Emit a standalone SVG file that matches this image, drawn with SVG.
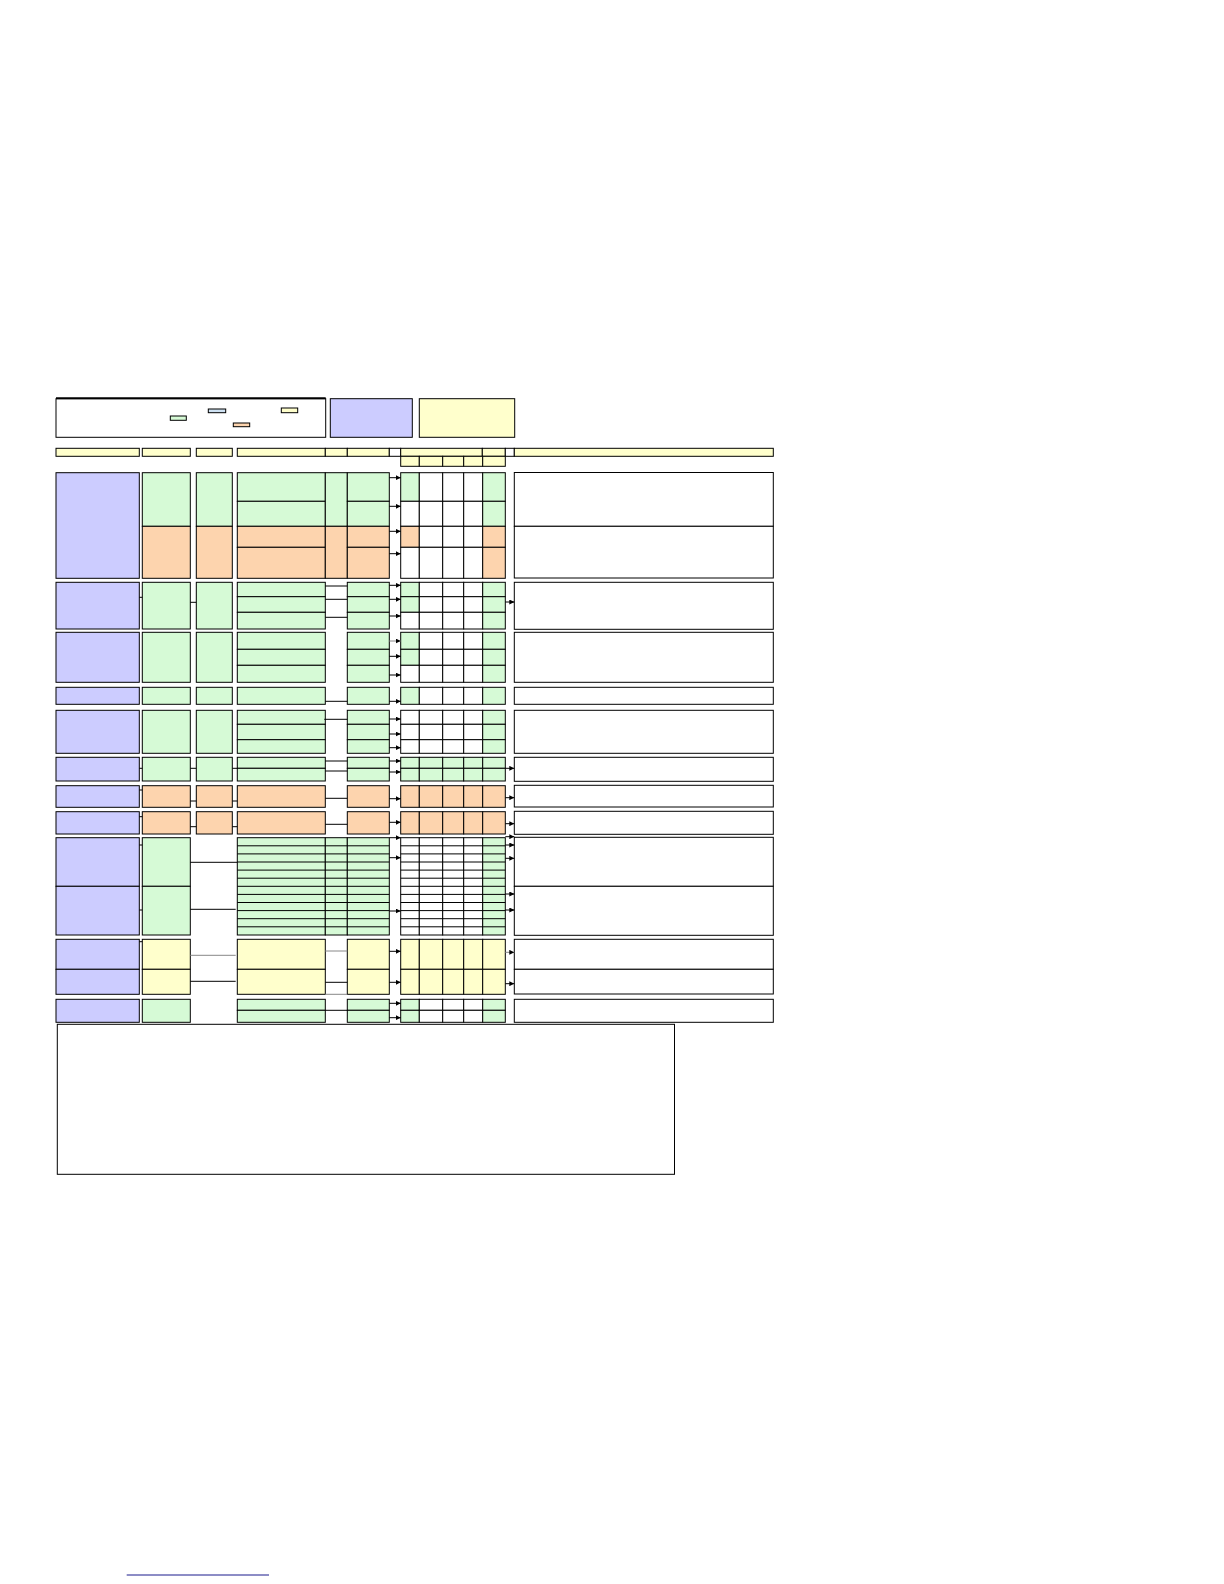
<svg xmlns="http://www.w3.org/2000/svg" width="1224" height="1584" viewBox="0 0 1224 1584">
<style>
rect{stroke:#000;stroke-width:1}
.b{fill:#ccccff}.g{fill:#d6fad6}.o{fill:#fdd4ae}.y{fill:#ffffcc}.w{fill:#fff}.lb{fill:#cfe2f3}
.c line,line.c{stroke:#000;stroke-width:1}
.gr{stroke:#888!important}
.a{marker-end:url(#ah)}
</style>
<defs>
<marker id="ah" markerUnits="userSpaceOnUse" markerWidth="5" markerHeight="5" refX="5" refY="2.5" orient="auto"><path d="M0,0L5,2.5L0,5z" fill="#000"/></marker>
</defs>

<g id="legend">
<rect class="w" x="56" y="398.7" width="269.7" height="38.6"/>
<line x1="56" y1="398.2" x2="325.7" y2="398.2" stroke="#000" stroke-width="2"/>
<rect class="g" x="170.3" y="416" width="16" height="4.3"/>
<rect class="lb" x="208.3" y="409" width="17.4" height="3.7"/>
<rect class="o" x="233.3" y="423" width="16.4" height="3.7"/>
<rect class="y" x="281.3" y="408" width="16.4" height="4.7"/>
</g>
<g id="legend-blue"><rect class="b" x="330.3" y="398.7" width="82" height="38.6"/></g>
<g id="legend-yellow"><rect class="y" x="419.3" y="398.7" width="95.4" height="38.6"/></g>

<g id="header">
<rect class="y" x="56" y="448.3" width="83.3" height="8"/>
<rect class="y" x="142.3" y="448.3" width="48" height="8"/>
<rect class="y" x="196.3" y="448.3" width="36" height="8"/>
<rect class="y" x="237.3" y="448.3" width="88" height="8"/>
<rect class="y" x="325.3" y="448.3" width="22" height="8"/>
<rect class="y" x="347.3" y="448.3" width="42" height="8"/>
<rect class="w" x="389.3" y="448.3" width="11.4" height="8"/>
<rect class="y" x="400.7" y="448.3" width="81.6" height="8"/>
<rect class="y" x="482.3" y="448.3" width="23" height="8"/>
<rect class="w" x="505.3" y="448.3" width="9" height="8"/>
<rect class="y" x="514.3" y="448.3" width="259" height="8"/>
<rect class="y" x="400.7" y="456.3" width="18.6" height="10"/>
<rect class="y" x="419.3" y="456.3" width="23.4" height="10"/>
<rect class="y" x="442.7" y="456.3" width="21" height="10"/>
<rect class="y" x="463.7" y="456.3" width="19" height="10"/>
<rect class="y" x="482.7" y="456.3" width="22.6" height="10"/>
</g>

<!-- Group 1 -->
<g id="row1">
<rect class="b" x="56" y="472.7" width="83.3" height="105.6"/>
<rect class="g" x="142.3" y="472.7" width="48" height="53.6"/>
<rect class="o" x="142.3" y="526.3" width="48" height="52"/>
<rect class="g" x="196.3" y="472.7" width="36" height="53.6"/>
<rect class="o" x="196.3" y="526.3" width="36" height="52"/>
<rect class="g" x="237.3" y="472.7" width="88" height="28.6"/>
<rect class="g" x="237.3" y="501.3" width="88" height="25"/>
<rect class="o" x="237.3" y="526.3" width="88" height="21"/>
<rect class="o" x="237.3" y="547.3" width="88" height="31"/>
<rect class="g" x="325.3" y="472.7" width="22" height="53.6"/>
<rect class="o" x="325.3" y="526.3" width="22" height="52"/>
<rect class="g" x="347.3" y="472.7" width="42" height="28.6"/>
<rect class="g" x="347.3" y="501.3" width="42" height="25"/>
<rect class="o" x="347.3" y="526.3" width="42" height="21"/>
<rect class="o" x="347.3" y="547.3" width="42" height="31"/>
<rect class="g" x="400.7" y="472.7" width="18.6" height="28.6"/>
<rect class="w" x="400.7" y="501.3" width="18.6" height="25"/>
<rect class="o" x="400.7" y="526.3" width="18.6" height="21"/>
<rect class="w" x="400.7" y="547.3" width="18.6" height="31"/>
<rect class="w" x="419.3" y="472.7" width="23.4" height="28.6"/>
<rect class="w" x="419.3" y="501.3" width="23.4" height="25"/>
<rect class="w" x="419.3" y="526.3" width="23.4" height="21"/>
<rect class="w" x="419.3" y="547.3" width="23.4" height="31"/>
<rect class="w" x="442.7" y="472.7" width="21" height="28.6"/>
<rect class="w" x="442.7" y="501.3" width="21" height="25"/>
<rect class="w" x="442.7" y="526.3" width="21" height="21"/>
<rect class="w" x="442.7" y="547.3" width="21" height="31"/>
<rect class="w" x="463.7" y="472.7" width="19" height="28.6"/>
<rect class="w" x="463.7" y="501.3" width="19" height="25"/>
<rect class="w" x="463.7" y="526.3" width="19" height="21"/>
<rect class="w" x="463.7" y="547.3" width="19" height="31"/>
<rect class="g" x="482.7" y="472.7" width="22.6" height="28.6"/>
<rect class="g" x="482.7" y="501.3" width="22.6" height="25"/>
<rect class="o" x="482.7" y="526.3" width="22.6" height="21"/>
<rect class="o" x="482.7" y="547.3" width="22.6" height="31"/>
<rect class="w" x="514.3" y="472.5" width="259" height="53.8"/>
<rect class="w" x="514.3" y="526.3" width="259" height="51.7"/>
</g>

<!-- Group 2 -->
<g id="row2">
<rect class="b" x="56" y="582.3" width="83.3" height="46.7"/>
<rect class="g" x="142.3" y="582.3" width="48" height="46.7"/>
<rect class="g" x="196.3" y="582.3" width="36" height="46.7"/>
<rect class="g" x="237.3" y="582.3" width="88" height="14.4"/>
<rect class="g" x="237.3" y="596.7" width="88" height="15.6"/>
<rect class="g" x="237.3" y="612.3" width="88" height="16.7"/>
<rect class="g" x="347.3" y="582.3" width="42" height="14.4"/>
<rect class="g" x="347.3" y="596.7" width="42" height="15.6"/>
<rect class="g" x="347.3" y="612.3" width="42" height="16.7"/>
<rect class="g" x="400.7" y="582.3" width="18.6" height="14.4"/>
<rect class="g" x="400.7" y="596.7" width="18.6" height="15.6"/>
<rect class="w" x="400.7" y="612.3" width="18.6" height="16.7"/>
<rect class="w" x="419.3" y="582.3" width="23.4" height="14.4"/>
<rect class="w" x="419.3" y="596.7" width="23.4" height="15.6"/>
<rect class="w" x="419.3" y="612.3" width="23.4" height="16.7"/>
<rect class="w" x="442.7" y="582.3" width="21" height="14.4"/>
<rect class="w" x="442.7" y="596.7" width="21" height="15.6"/>
<rect class="w" x="442.7" y="612.3" width="21" height="16.7"/>
<rect class="w" x="463.7" y="582.3" width="19" height="14.4"/>
<rect class="w" x="463.7" y="596.7" width="19" height="15.6"/>
<rect class="w" x="463.7" y="612.3" width="19" height="16.7"/>
<rect class="g" x="482.7" y="582.3" width="22.6" height="14.4"/>
<rect class="g" x="482.7" y="596.7" width="22.6" height="15.6"/>
<rect class="g" x="482.7" y="612.3" width="22.6" height="16.7"/>
<rect class="w" x="514.3" y="582.3" width="259" height="47"/>
</g>

<!-- Group 3 -->
<g id="row3">
<rect class="b" x="56" y="632.3" width="83.3" height="50"/>
<rect class="g" x="142.3" y="632.3" width="48" height="50"/>
<rect class="g" x="196.3" y="632.3" width="36" height="50"/>
<rect class="g" x="237.3" y="632.3" width="88" height="17"/>
<rect class="g" x="237.3" y="649.3" width="88" height="16"/>
<rect class="g" x="237.3" y="665.3" width="88" height="17"/>
<rect class="g" x="347.3" y="632.3" width="42" height="17"/>
<rect class="g" x="347.3" y="649.3" width="42" height="16"/>
<rect class="g" x="347.3" y="665.3" width="42" height="17"/>
<rect class="g" x="400.7" y="632.3" width="18.6" height="17"/>
<rect class="g" x="400.7" y="649.3" width="18.6" height="16"/>
<rect class="w" x="400.7" y="665.3" width="18.6" height="17"/>
<rect class="w" x="419.3" y="632.3" width="23.4" height="17"/>
<rect class="w" x="419.3" y="649.3" width="23.4" height="16"/>
<rect class="w" x="419.3" y="665.3" width="23.4" height="17"/>
<rect class="w" x="442.7" y="632.3" width="21" height="17"/>
<rect class="w" x="442.7" y="649.3" width="21" height="16"/>
<rect class="w" x="442.7" y="665.3" width="21" height="17"/>
<rect class="w" x="463.7" y="632.3" width="19" height="17"/>
<rect class="w" x="463.7" y="649.3" width="19" height="16"/>
<rect class="w" x="463.7" y="665.3" width="19" height="17"/>
<rect class="g" x="482.7" y="632.3" width="22.6" height="17"/>
<rect class="g" x="482.7" y="649.3" width="22.6" height="16"/>
<rect class="g" x="482.7" y="665.3" width="22.6" height="17"/>
<rect class="w" x="514.3" y="632.3" width="259" height="50"/>
</g>

<!-- Group 4 -->
<g id="row4">
<rect class="b" x="56" y="687.3" width="83.3" height="17"/>
<rect class="g" x="142.3" y="687.3" width="48" height="17"/>
<rect class="g" x="196.3" y="687.3" width="36" height="17"/>
<rect class="g" x="237.3" y="687.3" width="88" height="17"/>
<rect class="g" x="347.3" y="687.3" width="42" height="17"/>
<rect class="g" x="400.7" y="687.3" width="18.6" height="17"/>
<rect class="w" x="419.3" y="687.3" width="23.4" height="17"/>
<rect class="w" x="442.7" y="687.3" width="21" height="17"/>
<rect class="w" x="463.7" y="687.3" width="19" height="17"/>
<rect class="g" x="482.7" y="687.3" width="22.6" height="17"/>
<rect class="w" x="514.3" y="687.3" width="259" height="17"/>
</g>

<!-- Group 5 -->
<g id="row5">
<rect class="b" x="56" y="710.3" width="83.3" height="43"/>
<rect class="g" x="142.3" y="710.3" width="48" height="43"/>
<rect class="g" x="196.3" y="710.3" width="36" height="43"/>
<rect class="g" x="237.3" y="710.3" width="88" height="14"/>
<rect class="g" x="237.3" y="724.3" width="88" height="15.4"/>
<rect class="g" x="237.3" y="739.7" width="88" height="13.6"/>
<rect class="g" x="347.3" y="710.3" width="42" height="14"/>
<rect class="g" x="347.3" y="724.3" width="42" height="15.4"/>
<rect class="g" x="347.3" y="739.7" width="42" height="13.6"/>
<rect class="w" x="400.7" y="710.3" width="18.6" height="14"/>
<rect class="w" x="400.7" y="724.3" width="18.6" height="15.4"/>
<rect class="w" x="400.7" y="739.7" width="18.6" height="13.6"/>
<rect class="w" x="419.3" y="710.3" width="23.4" height="14"/>
<rect class="w" x="419.3" y="724.3" width="23.4" height="15.4"/>
<rect class="w" x="419.3" y="739.7" width="23.4" height="13.6"/>
<rect class="w" x="442.7" y="710.3" width="21" height="14"/>
<rect class="w" x="442.7" y="724.3" width="21" height="15.4"/>
<rect class="w" x="442.7" y="739.7" width="21" height="13.6"/>
<rect class="w" x="463.7" y="710.3" width="19" height="14"/>
<rect class="w" x="463.7" y="724.3" width="19" height="15.4"/>
<rect class="w" x="463.7" y="739.7" width="19" height="13.6"/>
<rect class="g" x="482.7" y="710.3" width="22.6" height="14"/>
<rect class="g" x="482.7" y="724.3" width="22.6" height="15.4"/>
<rect class="g" x="482.7" y="739.7" width="22.6" height="13.6"/>
<rect class="w" x="514.3" y="710.3" width="259" height="43"/>
</g>

<!-- Group 6 -->
<g id="row6">
<rect class="b" x="56" y="757.3" width="83.3" height="23.7"/>
<rect class="g" x="142.3" y="757.3" width="48" height="23.7"/>
<rect class="g" x="196.3" y="757.3" width="36" height="23.7"/>
<rect class="g" x="237.3" y="757.3" width="88" height="11"/>
<rect class="g" x="237.3" y="768.3" width="88" height="12.7"/>
<rect class="g" x="347.3" y="757.3" width="42" height="11"/>
<rect class="g" x="347.3" y="768.3" width="42" height="12.7"/>
<rect class="g" x="400.7" y="757.3" width="18.6" height="11"/>
<rect class="g" x="400.7" y="768.3" width="18.6" height="12.7"/>
<rect class="g" x="419.3" y="757.3" width="23.4" height="11"/>
<rect class="g" x="419.3" y="768.3" width="23.4" height="12.7"/>
<rect class="g" x="442.7" y="757.3" width="21" height="11"/>
<rect class="g" x="442.7" y="768.3" width="21" height="12.7"/>
<rect class="g" x="463.7" y="757.3" width="19" height="11"/>
<rect class="g" x="463.7" y="768.3" width="19" height="12.7"/>
<rect class="g" x="482.7" y="757.3" width="22.6" height="11"/>
<rect class="g" x="482.7" y="768.3" width="22.6" height="12.7"/>
<rect class="w" x="514.3" y="757.3" width="259" height="24"/>
</g>

<!-- Group 7 -->
<g id="row7">
<rect class="b" x="56" y="785.7" width="83.3" height="21.6"/>
<rect class="o" x="142.3" y="785.7" width="48" height="21.6"/>
<rect class="o" x="196.3" y="785.7" width="36" height="21.6"/>
<rect class="o" x="237.3" y="785.7" width="88" height="21.6"/>
<rect class="o" x="347.3" y="785.7" width="42" height="21.6"/>
<rect class="o" x="400.7" y="785.7" width="18.6" height="21.6"/>
<rect class="o" x="419.3" y="785.7" width="23.4" height="21.6"/>
<rect class="o" x="442.7" y="785.7" width="21" height="21.6"/>
<rect class="o" x="463.7" y="785.7" width="19" height="21.6"/>
<rect class="o" x="482.7" y="785.7" width="22.6" height="21.6"/>
<rect class="w" x="514.3" y="785.3" width="259" height="21.7"/>
</g>

<!-- Group 8 -->
<g id="row8">
<rect class="b" x="56" y="811.7" width="83.3" height="22.3"/>
<rect class="o" x="142.3" y="811.7" width="48" height="22.3"/>
<rect class="o" x="196.3" y="811.7" width="36" height="22.3"/>
<rect class="o" x="237.3" y="811.7" width="88" height="22.3"/>
<rect class="o" x="347.3" y="811.7" width="42" height="22.3"/>
<rect class="o" x="400.7" y="811.7" width="18.6" height="22.3"/>
<rect class="o" x="419.3" y="811.7" width="23.4" height="22.3"/>
<rect class="o" x="442.7" y="811.7" width="21" height="22.3"/>
<rect class="o" x="463.7" y="811.7" width="19" height="22.3"/>
<rect class="o" x="482.7" y="811.7" width="22.6" height="22.3"/>
<rect class="w" x="514.3" y="811.3" width="259" height="23"/>
</g>

<!-- Group 9/10 -->
<g id="row9">
<rect class="b" x="56" y="837.7" width="83.3" height="48.6"/>
<rect class="b" x="56" y="886.3" width="83.3" height="48.7"/>
<rect class="g" x="142.3" y="837.7" width="48" height="48.6"/>
<rect class="g" x="142.3" y="886.3" width="48" height="48.7"/>
<g id="row9-grid">
<rect class="g" x="237.3" y="837.7" width="88" height="97.3"/>
<rect class="g" x="325.3" y="837.7" width="22" height="97.3"/>
<rect class="g" x="347.3" y="837.7" width="42" height="97.3"/>
<rect class="w" x="400.7" y="837.7" width="18.6" height="97.3"/>
<rect class="w" x="419.3" y="837.7" width="23.4" height="97.3"/>
<rect class="w" x="442.7" y="837.7" width="21" height="97.3"/>
<rect class="w" x="463.7" y="837.7" width="19" height="97.3"/>
<rect class="g" x="482.7" y="837.7" width="22.6" height="97.3"/>
<path d="M237.3,845.8H389.3M237.3,853.9H389.3M237.3,862H389.3M237.3,870.1H389.3M237.3,878.2H389.3M237.3,886.3H389.3M237.3,894.4H389.3M237.3,902.5H389.3M237.3,910.6H389.3M237.3,918.7H389.3M237.3,926.8H389.3M400.7,845.8H505.3M400.7,853.9H505.3M400.7,862H505.3M400.7,870.1H505.3M400.7,878.2H505.3M400.7,886.3H505.3M400.7,894.4H505.3M400.7,902.5H505.3M400.7,910.6H505.3M400.7,918.7H505.3M400.7,926.8H505.3" stroke="#000" stroke-width="1" fill="none"/>
</g>
<rect class="w" x="514.3" y="837.3" width="259" height="49"/>
<rect class="w" x="514.3" y="886.3" width="259" height="49"/>
</g>

<!-- Group 11 -->
<g id="row11">
<rect class="b" x="56" y="939.3" width="83.3" height="30"/>
<rect class="b" x="56" y="969.3" width="83.3" height="25"/>
<rect class="y" x="142.3" y="939.3" width="48" height="30"/>
<rect class="y" x="142.3" y="969.3" width="48" height="25"/>
<rect class="y" x="237.3" y="939.3" width="88" height="30"/>
<rect class="y" x="237.3" y="969.3" width="88" height="25"/>
<rect class="y" x="347.3" y="939.3" width="42" height="30"/>
<rect class="y" x="347.3" y="969.3" width="42" height="25"/>
<rect class="y" x="400.7" y="939.3" width="18.6" height="30"/>
<rect class="y" x="400.7" y="969.3" width="18.6" height="25"/>
<rect class="y" x="419.3" y="939.3" width="23.4" height="30"/>
<rect class="y" x="419.3" y="969.3" width="23.4" height="25"/>
<rect class="y" x="442.7" y="939.3" width="21" height="30"/>
<rect class="y" x="442.7" y="969.3" width="21" height="25"/>
<rect class="y" x="463.7" y="939.3" width="19" height="30"/>
<rect class="y" x="463.7" y="969.3" width="19" height="25"/>
<rect class="y" x="482.7" y="939.3" width="22.6" height="30"/>
<rect class="y" x="482.7" y="969.3" width="22.6" height="25"/>
<rect class="w" x="514.3" y="939.3" width="259" height="30"/>
<rect class="w" x="514.3" y="969.3" width="259" height="24.7"/>
</g>

<!-- Group 12 -->
<g id="row12">
<rect class="b" x="56" y="999.3" width="83.3" height="23"/>
<rect class="g" x="142.3" y="999.3" width="48" height="23"/>
<rect class="g" x="237.3" y="999.3" width="88" height="11"/>
<rect class="g" x="237.3" y="1010.3" width="88" height="12"/>
<rect class="g" x="347.3" y="999.3" width="42" height="11"/>
<rect class="g" x="347.3" y="1010.3" width="42" height="12"/>
<rect class="g" x="400.7" y="999.3" width="18.6" height="11"/>
<rect class="g" x="400.7" y="1010.3" width="18.6" height="12"/>
<rect class="w" x="419.3" y="999.3" width="23.4" height="11"/>
<rect class="w" x="419.3" y="1010.3" width="23.4" height="12"/>
<rect class="w" x="442.7" y="999.3" width="21" height="11"/>
<rect class="w" x="442.7" y="1010.3" width="21" height="12"/>
<rect class="w" x="463.7" y="999.3" width="19" height="11"/>
<rect class="w" x="463.7" y="1010.3" width="19" height="12"/>
<rect class="g" x="482.7" y="999.3" width="22.6" height="11"/>
<rect class="g" x="482.7" y="1010.3" width="22.6" height="12"/>
<rect class="w" x="514.3" y="999.3" width="259" height="23"/>
</g>

<g id="notes"><rect class="w" x="57.3" y="1024.3" width="617.2" height="150"/></g>

<g id="connectors" class="c">
<line class="a" x1="389.3" y1="477.7" x2="400.7" y2="477.7"/>
<line class="a" x1="389.3" y1="506.3" x2="400.7" y2="506.3"/>
<line class="a" x1="389.3" y1="531.3" x2="400.7" y2="531.3"/>
<line class="a" x1="389.3" y1="553.7" x2="400.7" y2="553.7"/>
<line x1="139.3" y1="597.3" x2="142.3" y2="597.3"/>
<line x1="190.3" y1="602.3" x2="196.3" y2="602.3"/>
<line x1="325.3" y1="586" x2="347.3" y2="586"/>
<line x1="325.3" y1="599.3" x2="347.3" y2="599.3"/>
<line x1="325.3" y1="617.3" x2="347.3" y2="617.3"/>
<line class="a" x1="389.3" y1="585.3" x2="400.7" y2="585.3"/>
<line class="a" x1="389.3" y1="599.3" x2="400.7" y2="599.3"/>
<line class="a" x1="389.3" y1="616" x2="400.7" y2="616"/>
<line class="a" x1="505.3" y1="602" x2="514.3" y2="602"/>
<line class="a gr" x1="389.3" y1="641" x2="400.7" y2="641"/>
<line class="a" x1="389.3" y1="656.3" x2="400.7" y2="656.3"/>
<line class="a" x1="389.3" y1="675" x2="400.7" y2="675"/>
<line x1="325.3" y1="701.3" x2="347.3" y2="701.3"/>
<line class="a" x1="389.3" y1="701.3" x2="400.7" y2="701.3"/>
<line x1="324.3" y1="719.3" x2="347.3" y2="719.3"/>
<line class="a" x1="389.3" y1="719" x2="400.7" y2="719"/>
<line class="a" x1="389.3" y1="734" x2="400.7" y2="734"/>
<line class="a" x1="389.3" y1="747.7" x2="400.7" y2="747.7"/>
<line x1="139.3" y1="768.3" x2="142.3" y2="768.3"/>
<line x1="190.3" y1="768.3" x2="196.3" y2="768.3"/>
<line x1="232.3" y1="768.3" x2="237.3" y2="768.3"/>
<line x1="325.3" y1="761" x2="347.3" y2="761"/>
<line x1="325.3" y1="771" x2="347.3" y2="771"/>
<line class="a" x1="389.3" y1="761" x2="400.7" y2="761"/>
<line class="a" x1="389.3" y1="772" x2="400.7" y2="772"/>
<line class="a" x1="505.3" y1="768.3" x2="514.3" y2="768.3"/>
<line x1="139.3" y1="790" x2="142.3" y2="790"/>
<line x1="190.3" y1="801" x2="196.3" y2="801"/>
<line x1="232.3" y1="801" x2="237.3" y2="801"/>
<line x1="325.3" y1="798.3" x2="347.3" y2="798.3"/>
<line class="a" x1="389.3" y1="798.7" x2="400.7" y2="798.7"/>
<line class="a" x1="505.3" y1="797.7" x2="514.3" y2="797.7"/>
<line x1="139.3" y1="816.7" x2="142.3" y2="816.7"/>
<line x1="190.3" y1="826.7" x2="196.3" y2="826.7"/>
<line x1="232.3" y1="826.7" x2="237.3" y2="826.7"/>
<line x1="325.3" y1="824.3" x2="347.3" y2="824.3"/>
<line class="a" x1="389.3" y1="822.3" x2="400.7" y2="822.3"/>
<line class="a" x1="505.3" y1="823.7" x2="514.3" y2="823.7"/>
<line x1="139.3" y1="845" x2="142.3" y2="845"/>
<line x1="139.3" y1="910" x2="142.3" y2="910"/>
<line x1="190.3" y1="862.3" x2="237.3" y2="862.3"/>
<line x1="190.3" y1="909.3" x2="235.7" y2="909.3"/>
<line class="a" x1="389.3" y1="837.7" x2="400.7" y2="837.7"/>
<line class="a" x1="389.3" y1="857.7" x2="400.7" y2="857.7"/>
<line class="a" x1="389.3" y1="911" x2="400.7" y2="911"/>
<line class="a" x1="505.3" y1="836.7" x2="514.3" y2="836.7"/>
<line class="a" x1="505.3" y1="845" x2="514.3" y2="845"/>
<line class="a" x1="505.3" y1="858.3" x2="514.3" y2="858.3"/>
<line class="a" x1="505.3" y1="894" x2="514.3" y2="894"/>
<line class="a" x1="505.3" y1="910" x2="514.3" y2="910"/>
<line x1="139.3" y1="941.7" x2="142.3" y2="941.7"/>
<line class="gr" x1="190.3" y1="955.3" x2="235.7" y2="955.3"/>
<line x1="190.3" y1="981.3" x2="235.7" y2="981.3"/>
<line class="gr" x1="325.3" y1="951" x2="347.3" y2="951"/>
<line x1="325.3" y1="982.3" x2="347.3" y2="982.3"/>
<line class="gr" x1="325.3" y1="994.3" x2="347.3" y2="994.3"/>
<line class="a" x1="389.3" y1="951.3" x2="400.7" y2="951.3"/>
<line class="a" x1="389.3" y1="982.3" x2="400.7" y2="982.3"/>
<line class="a gr" x1="505.3" y1="952.3" x2="514.3" y2="952.3"/>
<line class="a" x1="505.3" y1="983.7" x2="514.3" y2="983.7"/>
<line x1="325.3" y1="1010.3" x2="347.3" y2="1010.3"/>
<line class="a" x1="389.3" y1="1003.3" x2="400.7" y2="1003.3"/>
<line class="a" x1="389.3" y1="1017.7" x2="400.7" y2="1017.7"/>
</g>

<g id="link"><line x1="126.7" y1="1575" x2="269" y2="1575" stroke="#1a1a8c" stroke-width="1"/></g>
</svg>
